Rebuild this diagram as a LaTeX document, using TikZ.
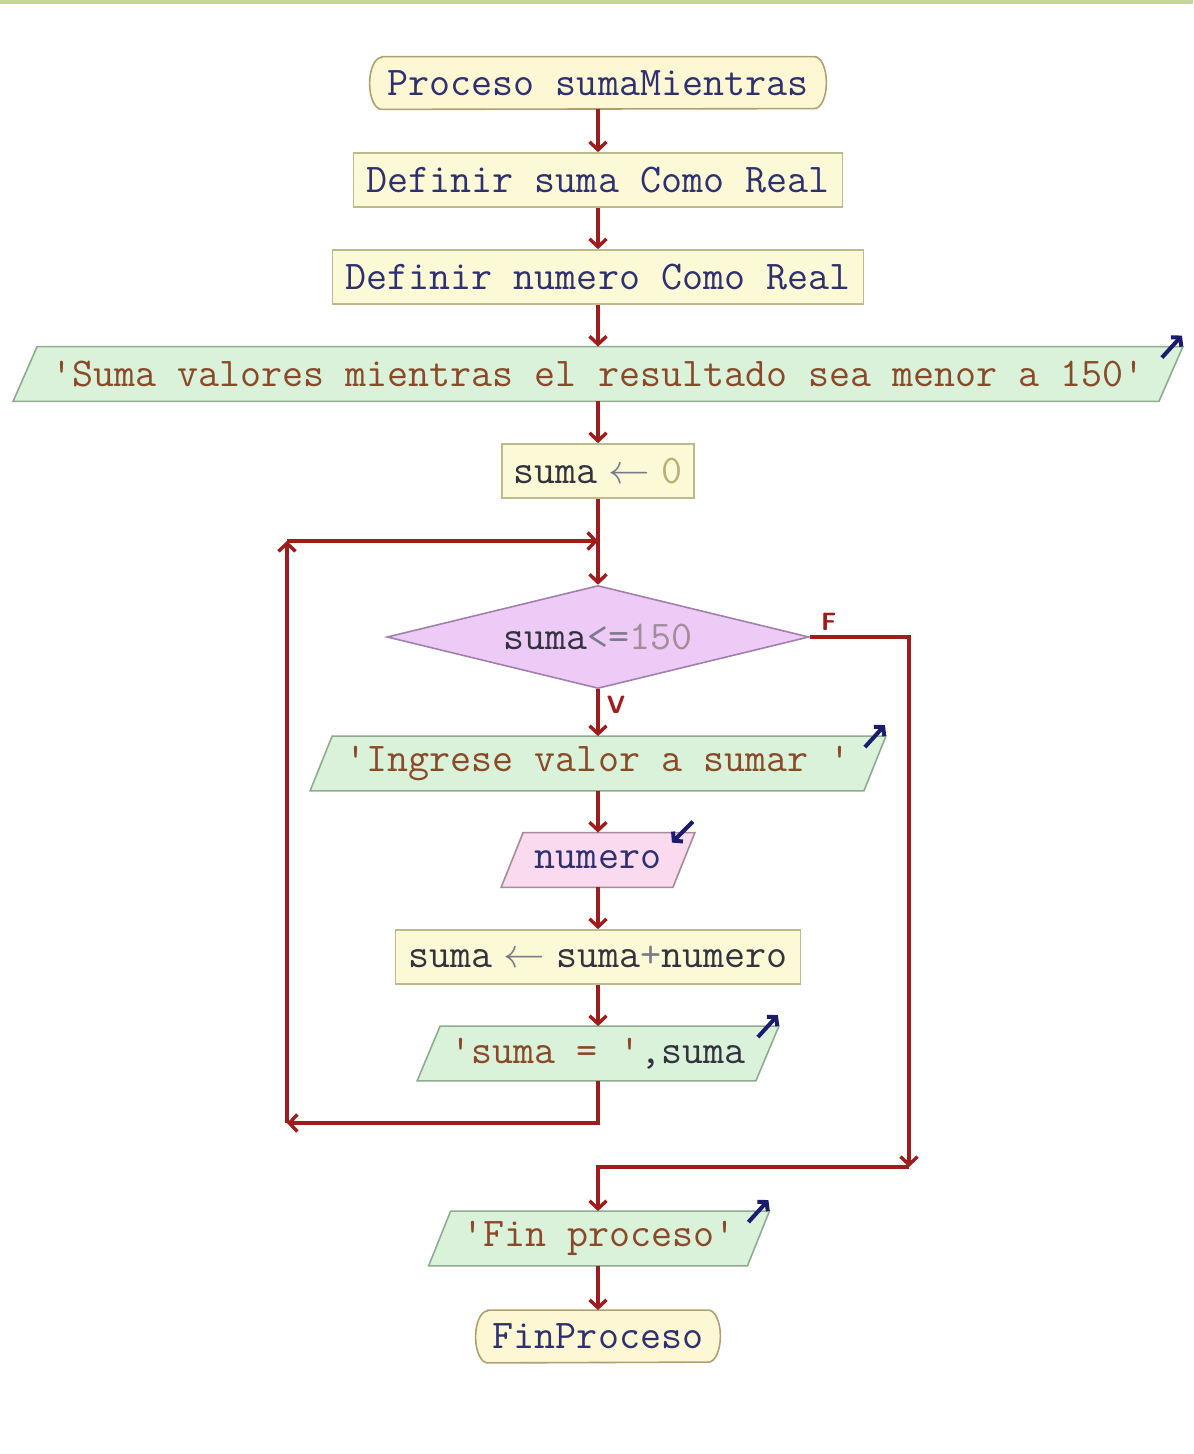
\documentclass[tikz,border=0pt]{standalone}
\usetikzlibrary{arrows.meta,shapes.geometric,backgrounds,calc}
\definecolor{topgreen}{HTML}{C3D69B}
\definecolor{flowred}{HTML}{A01C1C}
\definecolor{iconblue}{HTML}{1C1C6E}
\definecolor{boxfill}{HTML}{FCFAD6}
\definecolor{boxline}{HTML}{BDBA8C}
\definecolor{termfill}{HTML}{FDF7D4}
\definecolor{termline}{HTML}{B0A070}
\definecolor{outfill}{HTML}{D9F2D9}
\definecolor{outline}{HTML}{90AC90}
\definecolor{infill}{HTML}{F9DAEE}
\definecolor{inline}{HTML}{A88A9A}
\definecolor{decfill}{HTML}{EECAF6}
\definecolor{decline}{HTML}{A082A8}
\definecolor{kw}{HTML}{2E3070}
\definecolor{var}{HTML}{333340}
\definecolor{str}{HTML}{8A4A2A}
\definecolor{numc}{HTML}{BCAE78}
\definecolor{numd}{HTML}{A08E98}
\definecolor{opc}{HTML}{7A7A88}
\newcommand{\asgarrow}{\makebox[10.7pt]{\color{opc}$\leftarrow$}}
\begin{document}
\begin{tikzpicture}[x=0.5pt,y=-0.5pt,
  every node/.style={inner sep=0pt, font=\fontsize{20.4}{24}\selectfont\ttfamily},
  procbox/.style={draw=boxline, fill=boxfill, line width=0.8pt, minimum height=27pt},
  termbox/.style={minimum height=26pt},
  iobox/.style={minimum height=27pt},
  decbox/.style={diamond, aspect=4, draw=decline, fill=decfill, line width=0.8pt,
                 minimum width=211pt, minimum height=51.5pt},
  flow/.style={draw=flowred, line width=1.7pt, -{Straight Barb[length=4pt,width=8.5pt]}},
  icon/.style={draw=iconblue, line width=2pt, -{Straight Barb[length=3pt,width=7pt]}},
  branch/.style={font=\fontsize{12.5}{14}\selectfont\sffamily\bfseries, text=flowred},
  termshape/.style={fill=termfill, draw=termline, line width=0.8pt},
  outshape/.style={fill=outfill, draw=outline, line width=0.8pt},
  inshape/.style={fill=infill, draw=inline, line width=0.8pt}
]
% page and top rule
\begin{scope}[on background layer]
  \fill[white] (0,0) rectangle (1193,1454);
  \fill[topgreen] (0,0) rectangle (1193,4);
\end{scope}
\useasboundingbox (0,0) rectangle (1193,1454);

% nodes
\node[termbox, minimum width=228pt] (start) at (598,83)
  {{\color{kw}Proceso sumaMientras}};
\node[procbox, minimum width=244.5pt] (def1) at (598,180)
  {{\color{kw}Definir suma Como Real}};
\node[procbox, minimum width=265.5pt] (def2) at (598,277)
  {{\color{kw}Definir numero Como Real}};
\node[iobox, minimum width=584.5pt] (out1) at (598,374)
  {{\color{str}'Suma valores mientras el resultado sea menor a 150'}};
\node[procbox, minimum width=96pt] (asg0) at (598,471)
  {{\color{var}suma} \asgarrow{} {\color{numc}0}};
\node[decbox] (dec) at (598,637)
  {{\color{var}suma}{\color{opc}<=}{\color{numd}150}};
\node[iobox, minimum width=287.5pt] (out2) at (598,763.5)
  {{\color{str}'Ingrese valor a sumar '}};
\node[iobox, minimum width=96.5pt] (in1) at (598,860)
  {{\color{kw}numero}};
\node[procbox, minimum width=202.5pt] (asg1) at (598,957)
  {{\color{var}suma} \asgarrow{} {\color{var}suma}{\color{opc}+}{\color{var}numero}};
\node[iobox, minimum width=180.5pt] (out3) at (598,1053.5)
  {{\color{str}'suma = '}{\color{var},suma}};
\node[iobox, minimum width=170pt] (out4) at (599,1238.5)
  {{\color{str}'Fin proceso'}};
\node[termbox, minimum width=122pt] (end) at (598,1336.5)
  {{\color{kw}FinProceso}};

% branch labels
\node[branch] (flabel) at ([shift={(19,-15)}]dec.east) {F};
\node[branch] (vlabel) at ([shift={(18,16)}]dec.south) {V};

% shapes drawn behind the texts
\begin{scope}[on background layer]
  \foreach \t in {start,end}{
    \path[termshape] ([xshift=6pt]\t.north west) -- ([xshift=-6pt]\t.north east)
      arc[start angle=90, end angle=-90, x radius=6pt, y radius=13pt]
      -- ([xshift=6pt]\t.south west)
      arc[start angle=270, end angle=90, x radius=6pt, y radius=13pt] -- cycle;
  }
  \foreach \o/\s in {out1/12pt,out2/11pt,out3/11.5pt,out4/11pt}{
    \path[outshape] ([xshift=\s]\o.north west) -- (\o.north east)
      -- ([xshift=-\s]\o.south east) -- (\o.south west) -- cycle;
  }
  \path[inshape] ([xshift=11pt]in1.north west) -- (in1.north east)
    -- ([xshift=-11pt]in1.south east) -- (in1.south west) -- cycle;
\end{scope}

% output / input markers
\foreach \o in {out1,out2,out3,out4}{
  \draw[icon] ([shift={(-21,11)}]\o.north east) -- ([shift={(-1,-11)}]\o.north east);
}
\draw[icon] ([shift={(-2,-11)}]in1.north east) -- ([shift={(-23,10)}]in1.north east);

% loop corners
\coordinate (loopbl) at (287,1123);
\coordinate (looptl) at (287,541);
\coordinate (merge) at (598,541);
\coordinate (fcorner) at (909,1167);

% main flow
\draw[flow] (start.south) -- (def1.north);
\draw[flow] (def1.south) -- (def2.north);
\draw[flow] (def2.south) -- (out1.north);
\draw[flow] (out1.south) -- (asg0.north);
\draw[flow] (asg0.south) -- (dec.north);
\draw[flow] (dec.south) -- (out2.north);
\draw[flow] (out2.south) -- (in1.north);
\draw[flow] (in1.south) -- (asg1.north);
\draw[flow] (asg1.south) -- (out3.north);

% loop back
\draw[flow] (out3.south) |- (loopbl);
\draw[flow] (loopbl) -- (looptl);
\draw[flow] (looptl) -- (merge);

% exit branch
\draw[flow] (dec.east) -| (fcorner);
\draw[flow] (fcorner) -| (out4.north -| end.north);
\draw[flow] (out4.south -| end.north) -- (end.north);
\end{tikzpicture}
\end{document}
